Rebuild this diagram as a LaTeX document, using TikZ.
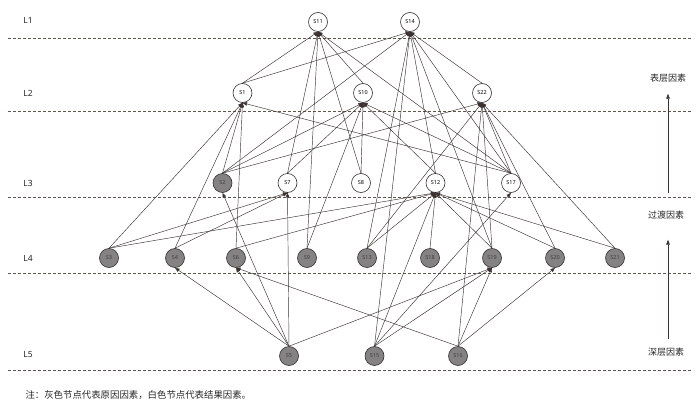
\documentclass[tikz,border=0pt]{standalone}
\usepackage{fontspec}
\setmainfont{Noto Sans}
\newfontfamily\cjk{Noto Sans CJK SC}
\usepackage{xcolor}
\definecolor{edgecol}{RGB}{58,50,48}
\definecolor{layercol}{RGB}{95,85,80}
\definecolor{causefill}{RGB}{132,130,130}
\definecolor{nodeline}{RGB}{50,45,45}
\usetikzlibrary{arrows.meta}

\begin{document}
\begin{tikzpicture}[
  x=1pt, y=-1pt,
  result/.style={circle, draw=nodeline, fill=white, minimum size=19pt, inner sep=0pt, line width=0.6pt, font=\fontsize{5.5}{6}\selectfont},
  cause/.style={result, fill=causefill, text=black!75},
  link/.style={-{Triangle[length=4.5pt,width=3.6pt]}, line width=0.45pt, color=edgecol},
  layer/.style={dash pattern=on 3pt off 2pt, line width=0.6pt, color=layercol},
  lvl/.style={font=\fontsize{8.5}{10}\selectfont, text=black!85},
  side/.style={font=\cjk\fontsize{9}{10}\selectfont, text=black!85},
  rise/.style={-{Triangle[length=5pt,width=3.6pt]}, line width=0.6pt, color=edgecol}
]
\useasboundingbox (0,0) rectangle (700,406);

% layer separators and labels
\foreach \y in {38,111,197,273,370} \draw[layer] (8,\y) -- (692,\y);
\node[lvl] (l1) at (28,20) {L1};
\node[lvl] (l2) at (28,93) {L2};
\node[lvl] (l3) at (28,183) {L3};
\node[lvl] (l4) at (28,258) {L4};
\node[lvl] (l5) at (28,355) {L5};

% L1
\node[result] (S11) at (318,22) {S11};
\node[result] (S14) at (410,22) {S14};
% L2
\node[result] (S1) at (242.5,93) {S1};
\node[result] (S10) at (363,93) {S10};
\node[result] (S22) at (482,93) {S22};
% L3
\node[cause] (S2) at (222.5,183) {S2};
\node[result] (S7) at (287.5,183) {S7};
\node[result] (S8) at (361,183) {S8};
\node[result] (S12) at (435.5,183) {S12};
\node[result] (S17) at (511,183) {S17};
% L4
\node[cause] (S3) at (109,258) {S3};
\node[cause] (S4) at (175,258) {S4};
\node[cause] (S6) at (236,258) {S6};
\node[cause] (S9) at (307,258) {S9};
\node[cause] (S13) at (367,258) {S13};
\node[cause] (S18) at (430,258) {S18};
\node[cause] (S19) at (492,258) {S19};
\node[cause] (S20) at (555,258) {S20};
\node[cause] (S21) at (615,258) {S21};
% L5
\node[cause] (S5) at (289,356) {S5};
\node[cause] (S15) at (374.5,356) {S15};
\node[cause] (S16) at (458,356) {S16};

% influence links, top of cause to bottom of effect
\foreach \t in {S11,S14} \draw[link] (S1.north) -- (\t.south);
\draw[link] (S10.north) -- (S11.south);
\draw[link] (S22.north) -- (S14.south);
\foreach \t in {S1,S14,S10,S22} \draw[link] (S2.north) -- (\t.south);
\foreach \t in {S11,S10} \draw[link] (S7.north) -- (\t.south);
\foreach \t in {S11,S10} \draw[link] (S8.north) -- (\t.south);
\foreach \t in {S10,S14} \draw[link] (S12.north) -- (\t.south);
\foreach \t in {S1,S10,S11,S14,S22} \draw[link] (S17.north) -- (\t.south);
\foreach \t in {S1,S7,S12} \draw[link] (S3.north) -- (\t.south);
\foreach \t in {S1,S7} \draw[link] (S4.north) -- (\t.south);
\foreach \t in {S1,S12} \draw[link] (S6.north) -- (\t.south);
\foreach \t in {S10,S11} \draw[link] (S9.north) -- (\t.south);
\foreach \t in {S14,S12,S22} \draw[link] (S13.north) -- (\t.south);
\draw[link] (S18.north) -- (S12.south);
\foreach \t in {S12,S22,S14} \draw[link] (S19.north) -- (\t.south);
\foreach \t in {S22,S12} \draw[link] (S20.north) -- (\t.south);
\foreach \t in {S22,S12} \draw[link] (S21.north) -- (\t.south);
\foreach \t in {S4,S6,S2,S7,S19} \draw[link] (S5.north) -- (\t.south);
\foreach \t in {S14,S12,S17,S19} \draw[link] (S15.north) -- (\t.south);
\foreach \t in {S6,S22,S19,S20} \draw[link] (S16.north) -- (\t.south);

% factor depth
\node[side] (surf) at (668,78) {表层因素};
\node[side] (trans) at (666,215) {过渡因素};
\node[side] (deep) at (666,352) {深层因素};
\draw[rise, shorten <=14pt, shorten >=8pt] ([xshift=2pt]trans.north) -- (surf.south);
\draw[rise, shorten <=5pt, shorten >=17pt] ([xshift=2pt]deep.north) -- ([xshift=2pt]trans.south);

\node[side, anchor=west, font=\cjk\fontsize{9.4}{11}\selectfont] (note) at (22,395) {注：灰色节点代表原因因素，白色节点代表结果因素。};
\end{tikzpicture}
\end{document}
